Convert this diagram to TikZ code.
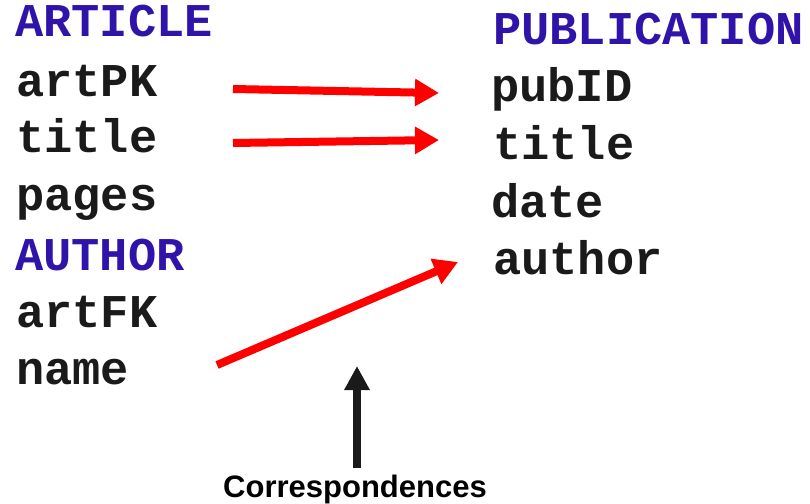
\documentclass[tikz,border=0pt]{standalone}
\usepackage{fontspec}
\setmainfont{Liberation Sans}
\newfontfamily\codefont{Liberation Mono}
\usetikzlibrary{arrows.meta}
\definecolor{headblue}{RGB}{48,20,170}
\definecolor{corrred}{RGB}{255,0,0}
\definecolor{inkblack}{RGB}{26,26,26}
\tikzset{
  field/.style={anchor=base west, inner sep=0pt, font=\codefont\bfseries\fontsize{47}{47}\selectfont, text=inkblack},
  heading/.style={field, text=headblue},
  corr/.style={draw=corrred, line width=8pt, -{Triangle[length=24pt,width=26pt]}},
  pointer/.style={draw=inkblack, line width=8pt, -{Triangle[length=24pt,width=24pt]}},
  caption/.style={anchor=base, inner sep=0pt, font=\bfseries\fontsize{31}{31}\selectfont, text=black}
}
\begin{document}
\begin{tikzpicture}[x=1pt,y=-1pt]
  \useasboundingbox (0,0) rectangle (810,503);
  % left schema
  \node[heading] (article) at (15,37) {ARTICLE};
  \node[field] (artPK) at (16,96) {artPK};
  \node[field] (ltitle) at (16,152) {title};
  \node[field] (pages) at (16,210) {pages};
  \node[heading] (author) at (15,270) {AUTHOR};
  \node[field] (artFK) at (16,327) {artFK};
  \node[field] (name) at (16,384) {name};
  % right schema
  \node[heading] (pub) at (493,45) {PUBLICATION};
  \node[field] (pubID) at (491,101) {pubID};
  \node[field] (rtitle) at (493,159) {title};
  \node[field] (date) at (491,217) {date};
  \node[field] (rauthor) at (493,274) {author};
  % arrow end points
  \coordinate (a1s) at (233,89);
  \coordinate (a1e) at (439,93);
  \coordinate (a2s) at (233,143);
  \coordinate (a2e) at (439,140);
  \coordinate (a3s) at (217,365);
  \coordinate (a3e) at (458,262);
  \draw[corr] (a1s) -- (a1e);
  \draw[corr] (a2s) -- (a2e);
  \draw[corr] (a3s) -- (a3e);
  % caption with pointer
  \node[caption] (corr) at (355,497) {Correspondences};
  \coordinate (ptip) at (357,366);
  \draw[pointer] (357,468) -- (ptip);
\end{tikzpicture}
\end{document}
